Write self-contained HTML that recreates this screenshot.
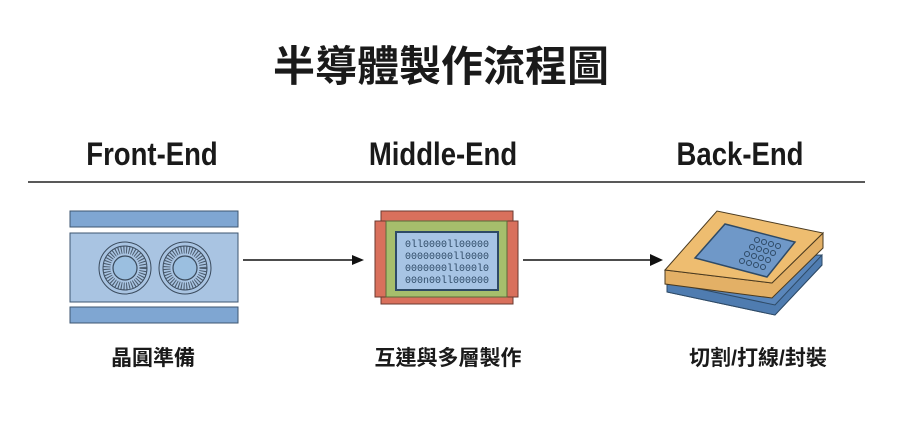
<!DOCTYPE html>
<html><head><meta charset="utf-8"><style>
body{margin:0;width:900px;height:425px;background:#fff;overflow:hidden;position:relative;font-family:"Liberation Sans","Noto Sans CJK TC",sans-serif;color:#1a1a1a}
.t{position:absolute;white-space:nowrap;font-weight:bold;transform:translateX(-50%)}
</style></head><body>
<div class="t" style="left:441px;top:33px;font-size:42px;">半導體製作流程圖</div>
<div class="t" style="left:152px;top:136px;font-size:32px;transform:translateX(-50%) scaleX(0.86)">Front-End</div>
<div class="t" style="left:443px;top:136px;font-size:32px;transform:translateX(-50%) scaleX(0.86)">Middle-End</div>
<div class="t" style="left:740px;top:136px;font-size:32px;transform:translateX(-50%) scaleX(0.86)">Back-End</div>
<div class="t" style="left:153px;top:342px;font-size:21px;">晶圓準備</div>
<div class="t" style="left:448px;top:342px;font-size:21px;">互連與多層製作</div>
<div class="t" style="left:758px;top:342px;font-size:21px;">切割/打線/封裝</div>
<svg width="900" height="425" style="position:absolute;left:0;top:0">
<line x1="28" y1="182" x2="865" y2="182" stroke="#222" stroke-width="1.5"/>
<rect x="70" y="211" width="168" height="16" fill="#7fa6d2" stroke="#3d5670"/>
<rect x="70" y="233" width="168" height="69" fill="#a9c4e2" stroke="#3d5670"/>
<rect x="70" y="307" width="168" height="16" fill="#7fa6d2" stroke="#3d5670"/>
<g fill="none" stroke="#3a4a5c">
<circle cx="125" cy="268" r="26" stroke-width="1"/><circle cx="125" cy="268" r="22" stroke-width="1"/>
<circle cx="125" cy="268" r="18" stroke="#4a5a6c" stroke-width="7" stroke-dasharray="1 1.6"/>
<circle cx="125" cy="268" r="12" fill="#9bbfe0" stroke-width="1.2"/>
<circle cx="185" cy="268" r="26" stroke-width="1"/><circle cx="185" cy="268" r="22" stroke-width="1"/>
<circle cx="185" cy="268" r="18" stroke="#4a5a6c" stroke-width="7" stroke-dasharray="1 1.6"/>
<circle cx="185" cy="268" r="12" fill="#9bbfe0" stroke-width="1.2"/>
</g>
<line x1="243" y1="260" x2="355" y2="260" stroke="#111" stroke-width="1.5"/>
<polygon points="364,260 352,255 352,265" fill="#111"/>
<line x1="523" y1="260" x2="652" y2="260" stroke="#111" stroke-width="1.5"/>
<polygon points="663,260 650,254 650,266" fill="#111"/>
<rect x="381" y="211" width="132" height="93" fill="#d9705c" stroke="#6a3a30"/>
<rect x="375" y="221" width="143" height="76" fill="#d9705c" stroke="#6a3a30"/>
<rect x="386" y="221" width="121" height="76" fill="#a6be6c" stroke="#5a6a3a"/>
<rect x="396" y="232" width="102" height="58" fill="#a7c4e4" stroke="#2e4a66" stroke-width="2"/>
<g font-family="Liberation Mono,monospace" font-size="10" fill="#2e4a66" text-anchor="middle">
<text x="447" y="247">0ll0000ll00000</text>
<text x="447" y="259">00000000ll0000</text>
<text x="447" y="271">0000000ll000l0</text>
<text x="447" y="283">000n00ll000000</text>
</g>
<polygon points="667,282 722,256 822,255 822,265 775,315 667,292" fill="#5a86ba" stroke="#2e4a66"/>
<polygon points="667,282 775,305 822,255 822,265 775,315 667,292" fill="#4f7cb0" stroke="#2e4a66"/>
<polygon points="665,270 772,283 823,233 823,248 772,298 665,284" fill="#e3b066" stroke="#4a3a20"/>
<polygon points="665,270 717,211 823,233 772,283" fill="#eebd70" stroke="#4a3a20"/>
<polygon points="695,258 725,224 795,242 767,277" fill="#6f98c8" stroke="#2e4a66" stroke-width="1.5"/>
<g fill="none" stroke="#2e4a66" stroke-width="1">
<circle cx="757" cy="240" r="2.5"/><circle cx="764" cy="242" r="2.5"/><circle cx="771" cy="244" r="2.5"/><circle cx="778" cy="246" r="2.5"/>
<circle cx="752" cy="247" r="2.5"/><circle cx="759" cy="249" r="2.5"/><circle cx="766" cy="251" r="2.5"/><circle cx="773" cy="253" r="2.5"/>
<circle cx="747" cy="254" r="2.5"/><circle cx="754" cy="256" r="2.5"/><circle cx="761" cy="258" r="2.5"/><circle cx="768" cy="260" r="2.5"/>
<circle cx="742" cy="261" r="2.5"/><circle cx="749" cy="263" r="2.5"/><circle cx="756" cy="265" r="2.5"/><circle cx="763" cy="267" r="2.5"/>
</g>
</svg>
</body></html>
